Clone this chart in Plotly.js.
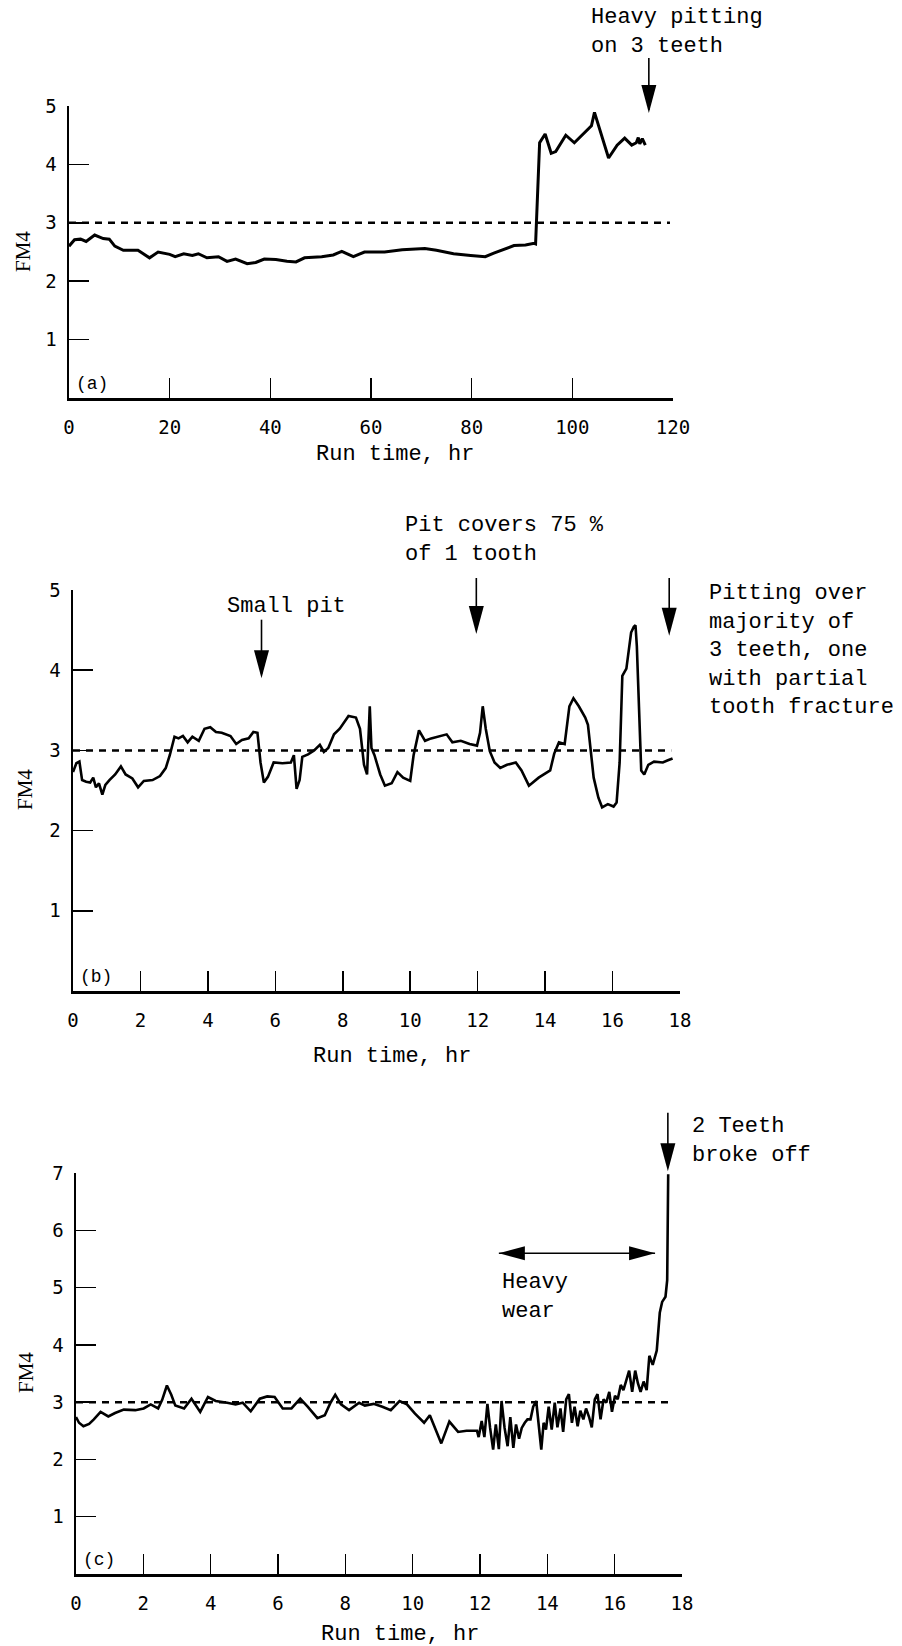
<!DOCTYPE html>
<html><head><meta charset="utf-8">
<script src="https://cdn.plot.ly/plotly-3.0.1.min.js"></script>
<style>html,body{margin:0;padding:0;background:#fff}</style>
</head><body><div id="chart" style="width:902px;height:1646px"></div>
<script>
// ---------- data ----------
const aTime = [0,1.1,2.3,3.4,5.1,6.8,8.0,9.1,10.8,13.7,16.0,17.7,20.0,21.1,22.8,24.5,25.7,27.4,29.7,31.4,33.1,35.4,37.1,38.8,41.1,43.3,45.1,46.8,50.2,52.5,54.2,56.5,58.7,62.7,66.2,70.7,73.0,76.4,79.8,82.7,84.4,86.1,88.4,90.7,92.4,92.7,93.5,94.6,95.8,96.7,98.7,100.4,102.7,103.8,104.4,105.5,107.2,108.9,110.4,111.8,112.7,113.1,113.4,113.9,114.5];
const aFM4 = [2.60,2.71,2.72,2.68,2.79,2.73,2.72,2.60,2.53,2.53,2.40,2.50,2.46,2.42,2.47,2.44,2.47,2.40,2.42,2.34,2.38,2.30,2.32,2.38,2.37,2.34,2.33,2.40,2.42,2.45,2.51,2.42,2.50,2.50,2.54,2.56,2.53,2.47,2.44,2.42,2.48,2.54,2.61,2.62,2.65,2.64,4.37,4.52,4.19,4.22,4.50,4.37,4.56,4.66,4.89,4.59,4.11,4.33,4.45,4.33,4.37,4.46,4.35,4.44,4.33];

const bTime = [0,0.1,0.19,0.27,0.39,0.51,0.6,0.68,0.77,0.87,0.96,1.08,1.25,1.42,1.56,1.76,1.93,2.10,2.36,2.58,2.75,2.87,3.01,3.13,3.26,3.40,3.54,3.73,3.90,4.07,4.24,4.41,4.67,4.84,5.01,5.21,5.35,5.47,5.56,5.66,5.78,5.95,6.21,6.46,6.55,6.63,6.72,6.80,6.97,7.15,7.32,7.44,7.57,7.74,7.91,8.17,8.39,8.51,8.63,8.72,8.80,8.85,8.94,9.11,9.25,9.45,9.62,9.79,10.0,10.10,10.26,10.44,10.62,10.82,11.08,11.25,11.5,11.76,11.98,12.07,12.15,12.24,12.36,12.50,12.67,12.87,13.13,13.30,13.52,13.81,13.98,14.15,14.27,14.41,14.58,14.72,14.84,15.0,15.19,15.27,15.44,15.58,15.69,15.86,16.03,16.12,16.21,16.29,16.41,16.46,16.55,16.63,16.68,16.72,16.80,16.85,16.94,17.06,17.23,17.49,17.66,17.78];
const bFM4 = [2.73,2.84,2.86,2.63,2.61,2.60,2.66,2.54,2.59,2.45,2.57,2.63,2.70,2.80,2.70,2.65,2.54,2.62,2.63,2.68,2.78,2.94,3.17,3.15,3.18,3.10,3.17,3.12,3.27,3.29,3.23,3.22,3.18,3.08,3.13,3.15,3.23,3.22,2.85,2.60,2.67,2.85,2.84,2.85,2.94,2.52,2.63,2.92,2.95,3.00,3.07,2.98,3.03,3.20,3.27,3.43,3.41,3.27,2.82,2.70,3.55,3.03,2.94,2.70,2.56,2.59,2.73,2.66,2.62,2.94,3.25,3.12,3.15,3.17,3.20,3.10,3.12,3.08,3.06,3.22,3.55,3.27,2.99,2.85,2.78,2.82,2.85,2.75,2.56,2.66,2.70,2.75,2.96,3.10,3.08,3.55,3.65,3.55,3.41,3.32,2.66,2.41,2.29,2.33,2.30,2.35,2.85,3.93,4.02,4.21,4.47,4.54,4.56,4.30,3.41,2.75,2.70,2.82,2.86,2.85,2.88,2.90];

const cTime = [0,0.09,0.22,0.39,0.53,0.73,0.96,1.16,1.42,1.76,2.01,2.22,2.44,2.56,2.70,2.83,2.95,3.21,3.43,3.69,3.92,4.15,4.49,4.74,4.95,5.19,5.46,5.68,5.90,6.14,6.40,6.66,6.88,7.17,7.39,7.56,7.70,7.87,8.11,8.41,8.58,8.84,9.10,9.35,9.61,9.83,10.07,10.34,10.51,10.85,11.09,11.35,11.60,11.91,11.96,12.05,12.13,12.22,12.30,12.39,12.47,12.56,12.64,12.73,12.82,12.90,12.99,13.07,13.16,13.24,13.33,13.41,13.50,13.58,13.67,13.75,13.82,13.89,13.96,14.04,14.13,14.22,14.30,14.39,14.47,14.56,14.64,14.73,14.81,14.90,14.98,15.07,15.15,15.24,15.32,15.41,15.49,15.58,15.67,15.75,15.84,15.92,16.01,16.09,16.18,16.26,16.35,16.43,16.52,16.61,16.69,16.77,16.86,16.95,17.03,17.13,17.25,17.34,17.41,17.51,17.56,17.59];
const cFM4 = [2.74,2.64,2.58,2.62,2.70,2.83,2.75,2.81,2.87,2.86,2.89,2.96,2.89,3.04,3.29,3.13,2.94,2.89,3.06,2.83,3.09,3.02,2.99,2.96,2.99,2.84,3.06,3.10,3.09,2.89,2.89,3.06,2.92,2.72,2.77,2.99,3.13,2.96,2.86,2.99,2.94,2.97,2.92,2.86,3.02,2.96,2.80,2.64,2.77,2.28,2.66,2.48,2.50,2.50,2.39,2.67,2.39,2.97,2.55,2.17,2.61,2.18,3.02,2.55,2.23,2.74,2.20,2.61,2.36,2.55,2.64,2.70,2.70,2.92,3.02,2.52,2.17,2.64,2.52,2.92,2.52,2.99,2.56,2.89,2.48,3.05,3.14,2.64,2.92,2.58,2.85,2.70,2.89,2.74,2.56,3.05,3.14,2.70,3.05,2.99,3.18,2.83,3.11,3.05,3.30,3.21,3.40,3.55,3.18,3.55,3.33,3.18,3.36,3.21,3.81,3.65,3.90,4.56,4.75,4.84,5.13,6.98];

// threshold (dashed) lines: FM4 = 3
const aThresholdX = [0, 119.4], aThresholdY = [3, 3];
const bThresholdX = [0, 17.74], bThresholdY = [3, 3];
const cThresholdX = [0, 17.66], cThresholdY = [3, 3];

// tick labels
const aXTicks = [0, 20, 40, 60, 80, 100, 120];
const bcXTicks = [0, 2, 4, 6, 8, 10, 12, 14, 16, 18];
const abYTicks = [1, 2, 3, 4, 5];
const cYTicks = [1, 2, 3, 4, 5, 6, 7];

const xTitle = 'Run time, hr';
const yTitle = 'FM4';

// ---------- styling ----------
const MONO = 'Liberation Mono, Courier New, monospace';
const TICKFONT = 'DejaVu Sans Mono, monospace';
const SERIF = 'Liberation Serif, Times New Roman, serif';
const W = 902, H = 1646;

function xAxis(px0, px1, range, ticks, anchor) {
  return {
    domain: [px0 / W, px1 / W], range: range, anchor: anchor,
    tickmode: 'array', tickvals: ticks, ticktext: ticks.map(String),
    ticks: 'inside', ticklen: 20, tickwidth: 1.5, tickcolor: '#000',
    showline: true, linewidth: 2.5, linecolor: '#000',
    showgrid: false, zeroline: false, fixedrange: true,
    tickfont: {family: TICKFONT, size: 19, color: '#000'},
    ticklabelstandoff: 11
  };
}
function yAxis(pyTop, pyBottom, range, ticks, anchor) {
  return {
    domain: [1 - pyBottom / H, 1 - pyTop / H], range: range, anchor: anchor,
    tickmode: 'array', tickvals: ticks, ticktext: ticks.map(String),
    ticks: 'inside', ticklen: 20, tickwidth: 1.5, tickcolor: '#000',
    showline: true, linewidth: 2.5, linecolor: '#000',
    showgrid: false, zeroline: false, fixedrange: true,
    tickfont: {family: TICKFONT, size: 19, color: '#000'},
    ticklabelstandoff: 6
  };
}

const traces = [
  {x: aTime, y: aFM4, xaxis: 'x', yaxis: 'y', mode: 'lines', line: {color: '#000', width: 3}},
  {x: aThresholdX, y: aThresholdY, xaxis: 'x', yaxis: 'y', mode: 'lines', line: {color: '#000', width: 2.5, dash: '7px,6px'}},
  {x: bTime, y: bFM4, xaxis: 'x2', yaxis: 'y2', mode: 'lines', line: {color: '#000', width: 2.6}},
  {x: bThresholdX, y: bThresholdY, xaxis: 'x2', yaxis: 'y2', mode: 'lines', line: {color: '#000', width: 2.5, dash: '7px,6px'}},
  {x: cTime, y: cFM4, xaxis: 'x3', yaxis: 'y3', mode: 'lines', line: {color: '#000', width: 2.6}},
  {x: cThresholdX, y: cThresholdY, xaxis: 'x3', yaxis: 'y3', mode: 'lines', line: {color: '#000', width: 2.5, dash: '7px,6px'}}
];

const ranges = {
  x: [0, 120], y: [0, 5],
  x2: [0, 18], y2: [0, 5],
  x3: [0, 18], y3: [0, 7]
};
// data value -> axis-domain fraction (so notes/arrows outside the range are still drawn)
function fx(ax, v) { const r = ranges[ax]; return (v - r[0]) / (r[1] - r[0]); }

function downArrow(xa, ya, x, yTop, yTip) {
  return [
    {type: 'line', xref: xa + ' domain', yref: ya + ' domain',
     x0: fx(xa, x), x1: fx(xa, x), y0: fx(ya, yTop), y1: fx(ya, yTip) + 0.01,
     line: {color: '#000', width: 1.6}},
    {type: 'path', xref: xa + ' domain', yref: ya + ' domain',
     xsizemode: 'pixel', ysizemode: 'pixel', xanchor: fx(xa, x), yanchor: fx(ya, yTip),
     path: 'M0,0L-7.5,28L7.5,28Z', fillcolor: '#000', line: {width: 0}}
  ];
}
function doubleArrow(xa, ya, xL, xR, yv) {
  return [
    {type: 'line', xref: xa + ' domain', yref: ya + ' domain',
     x0: fx(xa, xL), x1: fx(xa, xR), y0: fx(ya, yv), y1: fx(ya, yv),
     line: {color: '#000', width: 1.5}},
    {type: 'path', xref: xa + ' domain', yref: ya + ' domain',
     xsizemode: 'pixel', ysizemode: 'pixel', xanchor: fx(xa, xL), yanchor: fx(ya, yv),
     path: 'M0,0L26,7L26,-7Z', fillcolor: '#000', line: {width: 0}},
    {type: 'path', xref: xa + ' domain', yref: ya + ' domain',
     xsizemode: 'pixel', ysizemode: 'pixel', xanchor: fx(xa, xR), yanchor: fx(ya, yv),
     path: 'M0,0L-26,7L-26,-7Z', fillcolor: '#000', line: {width: 0}}
  ];
}

const shapes = [].concat(
  downArrow('x', 'y', 115.2, 5.82, 4.88),
  downArrow('x2', 'y2', 5.59, 4.63, 3.90),
  downArrow('x2', 'y2', 11.96, 5.15, 4.45),
  downArrow('x2', 'y2', 17.68, 5.15, 4.43),
  downArrow('x3', 'y3', 17.58, 8.05, 7.03),
  doubleArrow('x3', 'y3', 12.56, 17.2, 5.6)
);

function note(xa, ya, x, y, text) {
  return {xref: xa + ' domain', yref: ya + ' domain', x: fx(xa, x), y: fx(ya, y),
          text: text, showarrow: false,
          xanchor: 'left', yanchor: 'middle', align: 'left',
          font: {family: MONO, size: 22, color: '#000'}};
}
function panelTag(xa, ya, text) {
  return {xref: xa + ' domain', yref: ya + ' domain', x: 0, y: 0, text: text,
          showarrow: false, xanchor: 'left', yanchor: 'bottom', xshift: 5, yshift: 2,
          font: {family: MONO, size: 18, color: '#000'}};
}
function xTitleAnn(px, py) {
  return {xref: 'paper', yref: 'paper', x: px / W, y: 1 - py / H, text: xTitle,
          showarrow: false, xanchor: 'center', yanchor: 'middle',
          font: {family: MONO, size: 22, color: '#000'}};
}
function yTitleAnn(px, py) {
  return {xref: 'paper', yref: 'paper', x: px / W, y: 1 - py / H, text: yTitle,
          showarrow: false, xanchor: 'center', yanchor: 'middle', textangle: -90,
          font: {family: SERIF, size: 21, color: '#000'}};
}

const annotations = [
  note('x', 'y', 103.3, 6.26, 'Heavy pitting<br>on 3 teeth'),
  note('x2', 'y2', 9.79, 5.62, 'Pit covers 75 %<br>of 1 tooth'),
  note('x2', 'y2', 4.5, 4.80, 'Small pit'),
  note('x2', 'y2', 18.8, 4.24, 'Pitting over<br>majority of<br>3 teeth, one<br>with partial<br>tooth fracture'),
  note('x3', 'y3', 18.24, 7.56, '2 Teeth<br>broke off'),
  note('x3', 'y3', 12.6, 4.83, 'Heavy<br>wear'),
  panelTag('x', 'y', '(a)'),
  panelTag('x2', 'y2', '(b)'),
  panelTag('x3', 'y3', '(c)'),
  xTitleAnn(395, 455), xTitleAnn(392, 1056), xTitleAnn(400, 1634),
  yTitleAnn(23, 252), yTitleAnn(25, 790), yTitleAnn(26, 1373)
];

const layout = {
  width: W, height: H,
  margin: {l: 0, r: 0, t: 0, b: 0},
  paper_bgcolor: '#fff', plot_bgcolor: '#fff',
  showlegend: false,
  xaxis: xAxis(69, 673, ranges.x, aXTicks, 'y'),
  yaxis: yAxis(106, 398, ranges.y, abYTicks, 'x'),
  xaxis2: xAxis(73, 680, ranges.x2, bcXTicks, 'y2'),
  yaxis2: yAxis(590, 991, ranges.y2, abYTicks, 'x2'),
  xaxis3: xAxis(76, 682, ranges.x3, bcXTicks, 'y3'),
  yaxis3: yAxis(1173, 1574, ranges.y3, cYTicks, 'x3'),
  shapes: shapes,
  annotations: annotations
};

Plotly.newPlot('chart', traces, layout, {staticPlot: true, displayModeBar: false});
</script></body></html>
